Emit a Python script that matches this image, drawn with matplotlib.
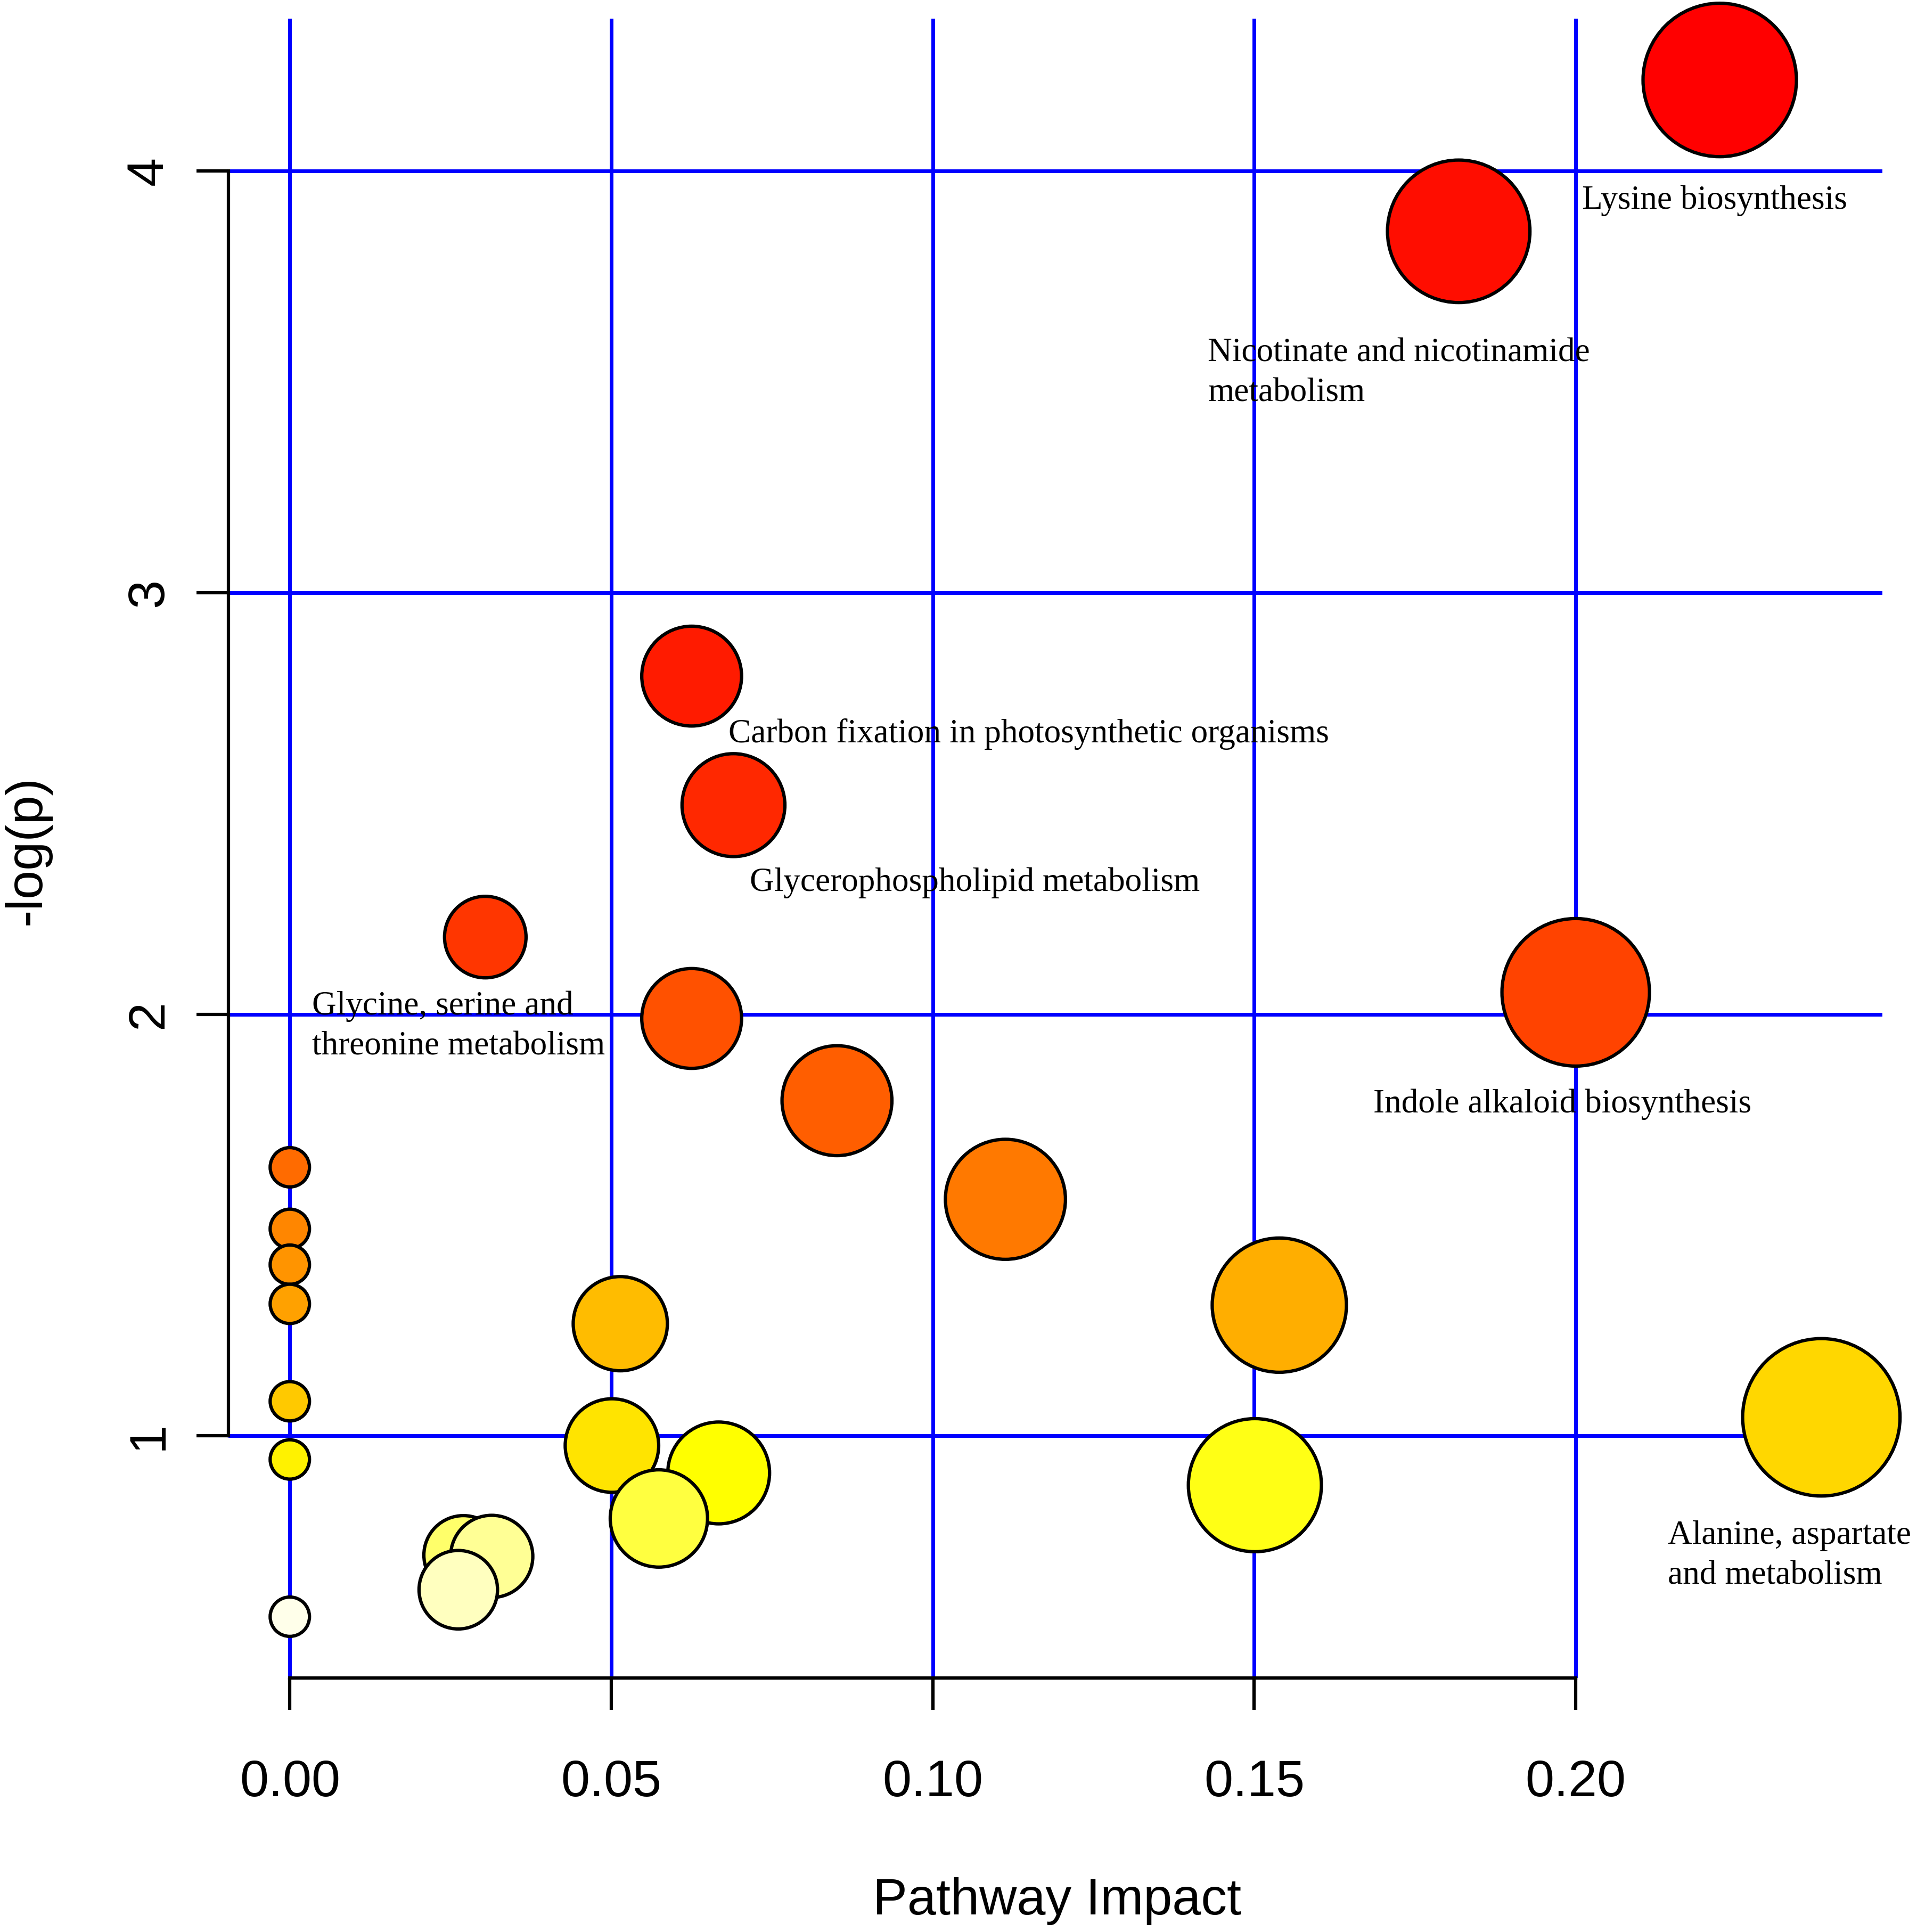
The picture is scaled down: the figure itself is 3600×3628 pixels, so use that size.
import numpy as np
import matplotlib
matplotlib.use('Agg')
import matplotlib.pyplot as plt
import colorsys

# Datos: impacto de la via (x) y -log(p) (y)
impact = [0.2224, 0.1818, 0.0625, 0.0690, 0.0304, 0.2000, 0.0625, 0.0851,
          0.0, 0.1113, 0.0, 0.0, 0.0, 0.1539, 0.0514, 0.0, 0.2382, 0.0501,
          0.0, 0.0667, 0.1501, 0.0574, 0.0270, 0.0314, 0.0262, 0.0]
neglogp = [4.216, 3.857, 2.802, 2.496, 2.183, 2.052, 1.990, 1.795,
           1.637, 1.561, 1.491, 1.406, 1.313, 1.310, 1.266, 1.082, 1.044, 0.977,
           0.944, 0.912, 0.883, 0.804, 0.717, 0.714, 0.635, 0.571]

etiquetas = ['Lysine biosynthesis',
             'Nicotinate and nicotinamide\nmetabolism',
             'Carbon fixation in photosynthetic organisms',
             'Glycerophospholipid metabolism',
             'Glycine, serine and\nthreonine metabolism',
             'Indole alkaloid biosynthesis',
             'Alanine, aspartate\nand metabolism']
etiq_x = [0.20096, 0.1428, 0.06826, 0.0715, 0.00344, 0.1685, 0.2143]
etiq_y = [3.930, 3.520, 2.665, 2.312, 1.971, 1.786, 0.7152]


def heat_colors(n):
    # equivalente a heat.colors(n) de R
    j = n // 4
    i = n - j
    cols = []
    for k in range(i):
        h = (1 / 6) * k / (i - 1)
        cols.append(colorsys.hsv_to_rgb(h, 1, 1))
    if j > 0:
        for s in np.linspace(1 - 1 / (2 * j), 1 / (2 * j), j):
            cols.append(colorsys.hsv_to_rgb(1 / 6, s, 1))
    return cols


x = np.array(impact)
y = np.array(neglogp)
orden = np.argsort(-y, kind='stable')
x = x[orden]
y = y[orden]
colores = heat_colors(len(y))

# radio en unidades del eje x
radio = 0.003059 + 0.018815 * np.sqrt(x)

fig = plt.figure(figsize=(36, 36.28), dpi=100)
ax = fig.add_axes([0.11923, 0.13138, 0.98205 - 0.11923, 0.99043 - 0.13138])

dx = x.max() - x.min()
dy = y.max() - y.min()
xlim = (x.min() - 0.04 * dx, x.max() + 0.04 * dx)
ylim = (y.min() - 0.04 * dy, y.max() + 0.04 * dy)
ax.set_xlim(xlim)
ax.set_ylim(ylim)

ancho_px = fig.get_figwidth() * fig.dpi * (0.98205 - 0.11923)
px_por_unidad = ancho_px / (xlim[1] - xlim[0])
diam_pt = 2 * radio * px_por_unidad * 72 / fig.dpi

ax.scatter(x, y, s=diam_pt ** 2, c=colores, edgecolors='black',
           linewidths=4.5, zorder=3, clip_on=False)

ax.set_xticks([0.0, 0.05, 0.10, 0.15, 0.20])
ax.set_xticklabels(['0.00', '0.05', '0.10', '0.15', '0.20'])
ax.set_yticks([1, 2, 3, 4])
ax.grid(True, color='#0000FF', linewidth=5, zorder=1)
ax.set_axisbelow(True)

for lado in ['top', 'right']:
    ax.spines[lado].set_visible(False)
ax.spines['left'].set_bounds(1, 4)
ax.spines['bottom'].set_bounds(0, 0.20)
ax.spines['left'].set_linewidth(4.5)
ax.spines['bottom'].set_linewidth(4.5)

ax.tick_params(axis='both', length=43, width=4.5, labelsize=70,
               labelfontfamily='Liberation Sans')
ax.tick_params(axis='x', pad=66)
ax.tick_params(axis='y', pad=32, labelrotation=90)
for t in ax.get_yticklabels():
    t.set_verticalalignment('center')

for texto, tx, ty in zip(etiquetas, etiq_x, etiq_y):
    ax.text(tx, ty, texto, fontsize=45.5, family='Liberation Serif',
            ha='left', va='center', linespacing=1.4, zorder=4)

fig.text(860 / 1560, 1 - 1543 / 1568, 'Pathway Impact', fontsize=70,
         family='Liberation Sans', ha='center', va='center')
fig.text(22 / 1560, 1 - 690 / 1568, '-log(p)', fontsize=70,
         family='Liberation Sans', ha='center', va='center', rotation=90)

fig.savefig('out.png', dpi=100)
